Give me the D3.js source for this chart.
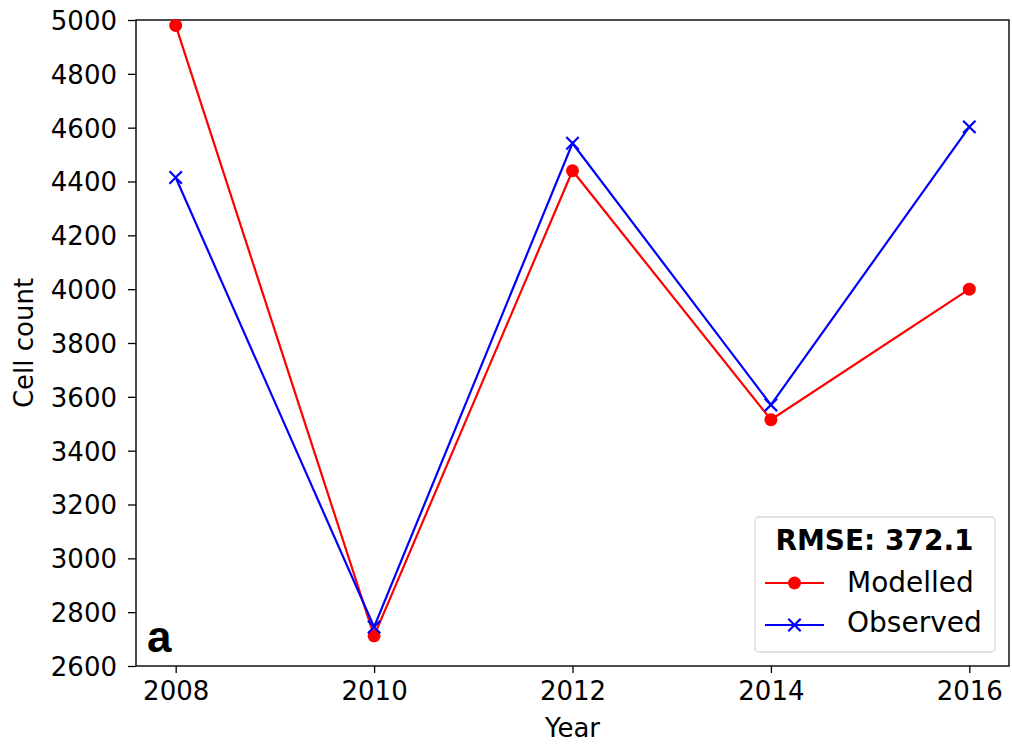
<!DOCTYPE html>
<html>
<head>
<meta charset="utf-8">
<script src="https://cdn.jsdelivr.net/npm/d3@7"></script>
<style>
  html, body { margin: 0; padding: 0; background: #fff; }
  svg { display: block; }
  text { font-family: "DejaVu Sans", sans-serif; fill: #000; }
</style>
</head>
<body>
<svg id="chart" width="1012" height="745"></svg>
<script>
// Yearly cell counts: model output vs. observations
const years = [2008, 2010, 2012, 2014, 2016];
const modelled = [4980, 2712, 4440, 3515, 4000];
const observed = [4415, 2745, 4542, 3570, 4603];
const yTicks = [2600, 2800, 3000, 3200, 3400, 3600, 3800, 4000, 4200, 4400, 4600, 4800, 5000];
const rmseLabel = "RMSE: 372.1";
const panelLabel = "a";

const svg = d3.select("#chart");
const margin = { left: 136, right: 1009, top: 20, bottom: 666 };

const x = d3.scaleLinear()
  .domain([2008 - 0.4, 2016 + 0.4])
  .range([margin.left, margin.right]);
const y = d3.scaleLinear()
  .domain([2600, 5000])
  .range([margin.bottom, margin.top]);

// Axes
const xAxis = svg.append("g")
  .attr("transform", `translate(0,${margin.bottom})`)
  .call(d3.axisBottom(x).tickValues(years).tickFormat(d3.format("d")).tickSizeOuter(0).tickSize(7).tickPadding(5));
const yAxis = svg.append("g")
  .attr("transform", `translate(${margin.left},0)`)
  .call(d3.axisLeft(y).tickValues(yTicks).tickFormat(d3.format("d")).tickSizeOuter(0).tickSize(8).tickPadding(11));

[xAxis, yAxis].forEach(g => {
  g.select(".domain").remove();
  g.selectAll(".tick line").attr("stroke", "#000").attr("stroke-width", 1.3);
  g.selectAll(".tick text").style("font-family", "DejaVu Sans").style("font-size", "26px").attr("fill", "#000");
});
xAxis.selectAll(".tick text").attr("dy", "0.85em");
yAxis.selectAll(".tick text").attr("dy", "0.36em");

// Frame
svg.append("rect")
  .attr("x", margin.left).attr("y", margin.top)
  .attr("width", margin.right - margin.left)
  .attr("height", margin.bottom - margin.top)
  .attr("fill", "none").attr("stroke", "#000").attr("stroke-width", 1.4);

// Axis titles
svg.append("text")
  .attr("x", (margin.left + margin.right) / 2).attr("y", 737)
  .attr("text-anchor", "middle").style("font-size", "26px").text("Year");
svg.append("text")
  .attr("transform", `translate(33,${(margin.top + margin.bottom) / 2}) rotate(-90)`)
  .attr("text-anchor", "middle").style("font-size", "26px").text("Cell count");

const line = d3.line().x((d, i) => x(years[i])).y(d => y(d));

// Modelled series: red line with circle markers
svg.append("path").datum(modelled)
  .attr("d", line).attr("fill", "none").attr("stroke", "#ff0000").attr("stroke-width", 2.2);
svg.selectAll(".m-dot").data(modelled).join("circle")
  .attr("cx", (d, i) => x(years[i])).attr("cy", d => y(d))
  .attr("r", 6.5).attr("fill", "#ff0000");

// Observed series: blue line with x markers
const cross = 6.2;
svg.append("path").datum(observed)
  .attr("d", line).attr("fill", "none").attr("stroke", "#0000ff").attr("stroke-width", 2.2);
svg.selectAll(".o-mark").data(observed).join("path")
  .attr("d", (d, i) => {
    const cx = x(years[i]), cy = y(d);
    return `M${cx - cross},${cy - cross}L${cx + cross},${cy + cross}M${cx - cross},${cy + cross}L${cx + cross},${cy - cross}`;
  })
  .attr("stroke", "#0000ff").attr("stroke-width", 2.2).attr("fill", "none");

// Panel label
svg.append("text")
  .attr("x", 147).attr("y", 652)
  .style("font-family", "Liberation Sans, Arial, sans-serif")
  .style("font-weight", "bold").style("font-size", "44px").text(panelLabel);

// Legend
const lg = svg.append("g");
lg.append("rect")
  .attr("x", 755).attr("y", 517).attr("width", 240).attr("height", 135)
  .attr("rx", 4).attr("fill", "#fff").attr("fill-opacity", 0.8)
  .attr("stroke", "#d9d9d9").attr("stroke-width", 1.3);
lg.append("text")
  .attr("x", 874.5).attr("y", 550).attr("text-anchor", "middle")
  .style("font-size", "28px").style("font-weight", "bold").text(rmseLabel);

const legendItems = [
  { name: "Modelled", color: "#ff0000", marker: "circle", y: 583, base: 592 },
  { name: "Observed", color: "#0000ff", marker: "cross", y: 625, base: 632 }
];
legendItems.forEach(item => {
  lg.append("line")
    .attr("x1", 765).attr("x2", 824).attr("y1", item.y).attr("y2", item.y)
    .attr("stroke", item.color).attr("stroke-width", 2.2);
  if (item.marker === "circle") {
    lg.append("circle").attr("cx", 794.5).attr("cy", item.y).attr("r", 6.5).attr("fill", item.color);
  } else {
    const cx = 794.5, cy = item.y;
    lg.append("path")
      .attr("d", `M${cx - cross},${cy - cross}L${cx + cross},${cy + cross}M${cx - cross},${cy + cross}L${cx + cross},${cy - cross}`)
      .attr("stroke", item.color).attr("stroke-width", 2.2);
  }
  lg.append("text")
    .attr("x", 847).attr("y", item.base)
    .style("font-size", "28px").text(item.name);
});
</script>
</body>
</html>
